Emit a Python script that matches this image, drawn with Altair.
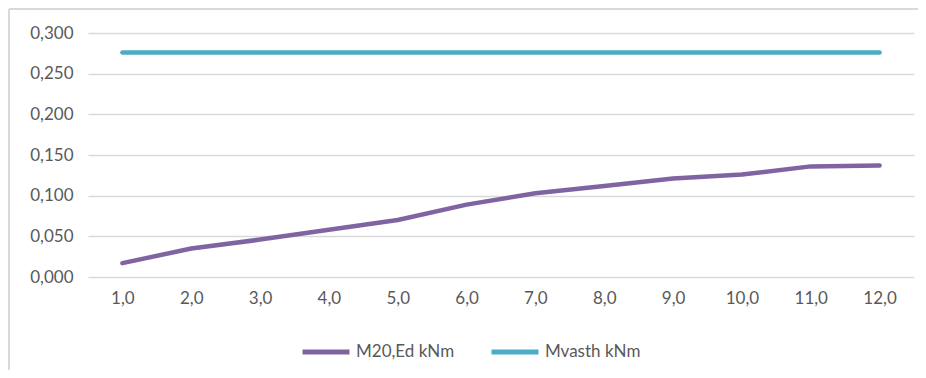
import altair as alt
import pandas as pd

categories = ["1,0", "2,0", "3,0", "4,0", "5,0", "6,0", "7,0", "8,0", "9,0", "10,0", "11,0", "12,0"]
m20_ed = [0.017, 0.035, 0.046, 0.058, 0.070, 0.089, 0.103, 0.112, 0.121, 0.126, 0.136, 0.137]
mvasth = [0.276] * 12
series_names = ["M20,Ed kNm", "Mvasth kNm"]
series_colors = ["#8064A2", "#4BACC6"]

rows = []
for c, v in zip(categories, m20_ed):
    rows.append({"x": c, "value": v, "series": series_names[0]})
for c, v in zip(categories, mvasth):
    rows.append({"x": c, "value": v, "series": series_names[1]})
df = pd.DataFrame(rows)

W, H = 826, 244
FONT = "Lato"
FS = 17

lines = alt.Chart(df).mark_line(strokeWidth=4.5, strokeCap="round", strokeJoin="round").encode(
    x=alt.X("x:N", sort=categories, scale=alt.Scale(type="point", padding=0.5),
            axis=alt.Axis(title=None, labelAngle=0, ticks=False, domain=False, grid=False,
                          labelPadding=13, labelFontSize=FS, labelColor="#595959", labelFont=FONT)),
    y=alt.Y("value:Q", scale=alt.Scale(domain=[0, 0.3], nice=False),
            axis=alt.Axis(title=None, values=[0, 0.05, 0.1, 0.15, 0.2, 0.25, 0.3],
                          labelExpr="replace(format(datum.value, '.3f'), '.', ',')",
                          ticks=False, domain=False, gridColor="#D9D9D9", gridWidth=1.3,
                          labelPadding=15, labelFontSize=FS, labelColor="#595959", labelFont=FONT)),
    color=alt.Color("series:N", scale=alt.Scale(domain=series_names, range=series_colors),
                    legend=alt.Legend(title=None, orient="none", direction="horizontal",
                                      legendX=212, legendY=293, symbolType="stroke",
                                      symbolSize=2209, symbolStrokeWidth=5,
                                      labelFontSize=FS, labelColor="#595959", labelFont=FONT,
                                      columnPadding=26, labelOffset=4)),
)

frame_df = pd.DataFrame({"k": [0]})
frame_left = alt.Chart(frame_df).mark_rule(stroke="#D9D9D9", strokeWidth=2).encode(
    x=alt.value(-79), y=alt.value(-24), y2=alt.value(H + 120)
)
frame_top = alt.Chart(frame_df).mark_rule(stroke="#D9D9D9", strokeWidth=2).encode(
    x=alt.value(-79), x2=alt.value(W + 20), y=alt.value(-24)
)

chart = alt.layer(frame_left, frame_top, lines).properties(
    width=W, height=H,
    autosize=alt.AutoSizeParams(type="none"),
    padding={"left": 80, "top": 25, "right": 4, "bottom": 93},
    background="white",
).configure_view(strokeWidth=0, stroke="white")

chart.save("out.html", embed_options={"renderer": "svg", "actions": False})
